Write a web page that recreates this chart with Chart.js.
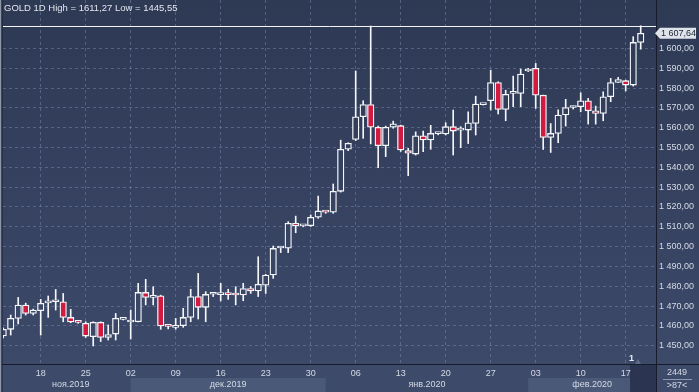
<!DOCTYPE html>
<html><head><meta charset="utf-8">
<script src="https://cdn.jsdelivr.net/npm/chart.js@4.4.1/dist/chart.umd.min.js"></script>
<style>html,body{margin:0;padding:0;background:#36425f;overflow:hidden}canvas{display:block}</style>
</head><body>
<canvas id="c" width="699" height="392"></canvas>
<script>
// ---- data ----
const dates = [
 '2019-11-12','2019-11-13','2019-11-14','2019-11-15','2019-11-16',
 '2019-11-18','2019-11-19','2019-11-20','2019-11-21','2019-11-22','2019-11-23',
 '2019-11-25','2019-11-26','2019-11-27','2019-11-28','2019-11-29','2019-11-30',
 '2019-12-02','2019-12-03','2019-12-04','2019-12-05','2019-12-06','2019-12-07',
 '2019-12-09','2019-12-10','2019-12-11','2019-12-12','2019-12-13','2019-12-14',
 '2019-12-16','2019-12-17','2019-12-18','2019-12-19','2019-12-20','2019-12-21',
 '2019-12-23','2019-12-24','2019-12-25','2019-12-26','2019-12-27','2019-12-28',
 '2019-12-30','2019-12-31','2020-01-01','2020-01-02','2020-01-03','2020-01-04',
 '2020-01-06','2020-01-07','2020-01-08','2020-01-09','2020-01-10','2020-01-11',
 '2020-01-13','2020-01-14','2020-01-15','2020-01-16','2020-01-17','2020-01-18',
 '2020-01-20','2020-01-21','2020-01-22','2020-01-23','2020-01-24','2020-01-25',
 '2020-01-27','2020-01-28','2020-01-29','2020-01-30','2020-01-31','2020-02-01',
 '2020-02-03','2020-02-04','2020-02-05','2020-02-06','2020-02-07','2020-02-08',
 '2020-02-10','2020-02-11','2020-02-12','2020-02-13','2020-02-14','2020-02-15',
 '2020-02-17','2020-02-18','2020-02-19'
];
const open = [
 1455.0,1458.3,1463.8,1470.5,1466.3,
 1467.7,1471.6,1472.2,1472.2,1464.3,1462.0,
 1461.3,1454.6,1461.8,1454.2,1455.9,1463.3,
 1462.0,1462.1,1476.9,1474.4,1475.2,1460.0,
 1459.3,1460.1,1464.3,1474.8,1469.4,1476.0,
 1475.8,1475.9,1475.7,1475.6,1478.9,1477.6,
 1480.5,1485.7,1499.3,1499.2,1511.8,1510.5,
 1510.6,1514.8,1517.6,1517.4,1527.9,1549.1,
 1554.1,1565.5,1571.7,1560.2,1550.9,1560.2,
 1561.0,1548.4,1546.7,1555.9,1553.8,1557.0,
 1556.8,1560.5,1558.8,1558.8,1562.1,1571.6,
 1573.6,1582.8,1569.2,1577.3,1577.3,1588.6,
 1589.9,1576.4,1555.1,1557.1,1566.4,1570.2,
 1570.6,1573.6,1568.5,1567.2,1575.6,1582.8,
 1583.7,1581.5,1603.0
];
const high = [
 1459.0,1465.5,1474.4,1471.5,1468.5,
 1473.4,1475.1,1478.4,1476.4,1468.4,1462.5,
 1462.1,1462.1,1462.1,1460.5,1466.3,1463.6,
 1468.0,1481.5,1483.5,1479.8,1475.5,1460.5,
 1463.8,1468.9,1478.5,1486.5,1477.3,1476.8,
 1481.5,1478.5,1479.8,1481.5,1479.8,1494.9,
 1486.0,1500.3,1500.1,1512.6,1515.4,1511.0,
 1516.0,1525.5,1518.0,1531.6,1553.7,1552.4,
 1588.6,1573.6,1611.27,1560.8,1560.8,1563.3,
 1561.3,1549.6,1557.9,1558.3,1561.2,1557.6,
 1562.5,1568.9,1560.5,1568.0,1575.9,1572.0,
 1589.0,1583.2,1578.9,1586.0,1589.6,1589.9,
 1592.4,1576.4,1562.1,1569.0,1574.3,1570.9,
 1577.6,1574.8,1570.9,1578.1,1584.9,1585.4,
 1584.0,1605.9,1611.4
];
const low = [
 1454.0,1455.4,1461.0,1465.5,1465.5,
 1455.4,1464.3,1468.0,1462.1,1461.6,1461.3,
 1454.2,1449.9,1452.1,1452.9,1452.9,1463.0,
 1453.4,1462.0,1470.6,1470.6,1458.3,1458.5,
 1458.3,1459.3,1462.1,1463.5,1462.1,1474.8,
 1472.6,1473.4,1470.6,1472.7,1476.4,1474.8,
 1476.4,1484.0,1497.0,1497.0,1507.0,1510.0,
 1510.2,1514.3,1516.8,1516.8,1527.5,1548.4,
 1553.5,1554.6,1551.8,1539.8,1545.4,1559.7,
 1548.0,1535.8,1546.2,1547.9,1549.1,1556.4,
 1556.3,1546.2,1549.9,1552.0,1556.3,1571.4,
 1568.9,1566.9,1563.5,1570.6,1570.6,1588.3,
 1569.7,1549.0,1547.5,1552.4,1560.8,1569.4,
 1568.0,1561.8,1561.8,1563.5,1573.1,1582.7,
 1578.5,1581.0,1599.6
];
const close = [
 1458.3,1463.8,1470.5,1466.3,1468.0,
 1471.4,1472.0,1472.5,1464.3,1462.0,1461.8,
 1454.9,1461.8,1454.2,1455.7,1463.8,1463.4,
 1462.4,1476.9,1474.4,1475.2,1460.0,1459.8,
 1460.1,1464.3,1474.8,1469.4,1475.9,1476.2,
 1476.0,1475.8,1475.6,1478.9,1477.6,1481.0,
 1485.7,1499.1,1499.5,1511.8,1510.6,1510.6,
 1514.8,1518.0,1517.4,1527.9,1549.1,1552.1,
 1565.5,1571.7,1560.2,1550.9,1560.2,1562.0,
 1548.8,1547.1,1555.9,1553.8,1557.1,1557.2,
 1560.5,1558.3,1558.9,1562.5,1571.9,1571.8,
 1582.8,1569.2,1576.8,1577.8,1587.0,1589.4,
 1576.4,1555.1,1557.1,1566.4,1570.2,1570.4,
 1573.6,1568.5,1567.2,1575.6,1582.8,1584.3,
 1581.5,1603.0,1607.64
];
const yTicks = [1450,1460,1470,1480,1490,1500,1510,1520,1530,1540,1550,1560,1570,1580,1590,1600];
const titleText = 'GOLD 1D High = 1611,27 Low = 1445,55';
const highLevel = 1611.27;
const monthNames = ['янв','фев','мар','апр','май','июн','июл','авг','сен','окт','ноя','дек'];
const cornerTop = '2449';
const cornerBottom = '>87<';
const markerText = '1';

// ---- helpers ----
const FONT = "'Liberation Sans', Arial, sans-serif";
const TXT = '#d4dae5';
const RED = '#d2193f';
const GRID = 'rgba(115,132,170,0.55)';
function fmt(v){
  const s = Number(v).toFixed(2).split('.');
  return s[0].replace(/\B(?=(\d{3})+(?!\d))/g,' ') + ',' + s[1];
}
function weekday(s){ const p = s.split('-').map(Number); return new Date(Date.UTC(p[0],p[1]-1,p[2])).getUTCDay(); }
const idx = dates.map((d,i)=>i);
const mondays = idx.filter(i => weekday(dates[i]) === 1);
const bodies = idx.map(i => ({x:i, y:[open[i], close[i]]}));
const wickLow = idx.map(i => ({x:i, y:[low[i], Math.min(open[i], close[i])]}));
const wickHigh = idx.map(i => ({x:i, y:[Math.max(open[i], close[i]), high[i]]}));

const canvas = document.getElementById('c');
const ctx0 = canvas.getContext('2d');
const bgGrad = ctx0.createLinearGradient(0,0,0,364);
bgGrad.addColorStop(0,'#2e3954');
bgGrad.addColorStop(1,'#3c4969');

const decor = {
  id:'decor',
  beforeDraw(chart){
    const c = chart.ctx, a = chart.chartArea, xs = chart.scales.x;
    c.save();
    c.fillStyle = bgGrad; c.fillRect(0,0,699,392);
    c.fillStyle = '#3d4a6a'; c.fillRect(0,a.bottom,699,392-a.bottom);
    const starts = idx.filter(i => i===0 || dates[i].slice(0,7)!==dates[i-1].slice(0,7));
    starts.forEach((s,k) => {
      if (k % 2 === 1) {
        const l = xs.getPixelForValue(s);
        const r = k+1 < starts.length ? xs.getPixelForValue(starts[k+1]) : a.right;
        c.fillStyle = '#4b5979'; c.fillRect(l, 378, r-l, 14);
      }
    });
    c.fillStyle = '#2b3551'; c.fillRect(a.right-26, a.bottom, 26, 392-a.bottom);
    c.restore();
  },
  afterDraw(chart){
    const c = chart.ctx, a = chart.chartArea, xs = chart.scales.x, ys = chart.scales.y;
    c.save();
    const hy = Math.round(ys.getPixelForValue(highLevel)) + 0.5;
    c.strokeStyle = '#f2f4f8'; c.lineWidth = 1;
    c.beginPath(); c.moveTo(a.left, hy); c.lineTo(a.right, hy); c.stroke();
    c.strokeStyle = '#161c2a';
    c.beginPath(); c.moveTo(0, a.bottom+0.5); c.lineTo(699, a.bottom+0.5); c.stroke();
    c.beginPath(); c.moveTo(a.right+0.5, 0); c.lineTo(a.right+0.5, 392); c.stroke();
    c.fillStyle = '#8e97aa'; c.fillRect(0,0,1.5,392);
    c.fillStyle = '#1a2030'; c.fillRect(1.5,0,1,392);
    c.font = '9.5px ' + FONT; c.fillStyle = '#e2e6ee';
    c.textAlign = 'left'; c.textBaseline = 'middle';
    c.fillText(titleText, 4, 8.5);
    const starts = idx.filter(i => i===0 || dates[i].slice(0,7)!==dates[i-1].slice(0,7));
    const step = xs.getPixelForValue(1) - xs.getPixelForValue(0);
    c.font = '9px ' + FONT; c.fillStyle = TXT; c.textAlign = 'center';
    starts.forEach((s,k) => {
      let first = s;
      while (xs.getPixelForValue(first) - step/2 < a.left) first++;
      const l = xs.getPixelForValue(first);
      const r = k+1 < starts.length ? xs.getPixelForValue(starts[k+1]) : a.right;
      const p = dates[s].split('-');
      c.fillText(monthNames[Number(p[1])-1] + '.' + p[0], (l+r)/2, 384.5);
    });
    c.fillStyle = '#e6e9f0'; c.font = 'bold 9px ' + FONT; c.textAlign = 'left';
    c.fillText(markerText, a.right-27, a.bottom-5);
    c.fillStyle = '#5d6a88';
    c.beginPath(); c.moveTo(a.right-21, a.bottom); c.lineTo(a.right-18, a.bottom-5); c.lineTo(a.right-15, a.bottom); c.closePath(); c.fill();
    c.fillStyle = TXT; c.font = '9px ' + FONT; c.textAlign = 'center';
    c.fillText(cornerTop, 677, 372.5);
    c.fillText(cornerBottom, 677, 386);
    c.strokeStyle = '#8f9ab0';
    c.beginPath(); c.moveTo(663, 379.5); c.lineTo(692, 379.5); c.stroke();
    const last = close[close.length-1];
    const ty = ys.getPixelForValue(last);
    c.fillStyle = '#dfe3ea';
    c.beginPath();
    c.moveTo(a.right-1, ty); c.lineTo(a.right+4, ty-5.5); c.lineTo(696, ty-5.5);
    c.lineTo(696, ty+5.5); c.lineTo(a.right+4, ty+5.5); c.closePath(); c.fill();
    c.fillStyle = '#1c2333'; c.textAlign = 'left'; c.font = '9px ' + FONT;
    c.fillText(fmt(last), a.right+5, ty+0.5);
    c.restore();
  }
};

new Chart(canvas, {
  type: 'bar',
  data: {
    datasets: [
      { data: bodies, grouped: false, barThickness: 6.5, minBarLength: 2,
        backgroundColor: ctx => { const r = ctx.raw; return r && r.y[1] < r.y[0] ? RED : bgGrad; },
        borderColor: '#f4f6fa', borderWidth: 1.3, borderSkipped: false, order: 0 },
      { data: wickLow, grouped: false, barThickness: 1, backgroundColor: '#f4f6fa', borderWidth: 0, order: 1 },
      { data: wickHigh, grouped: false, barThickness: 1, backgroundColor: '#f4f6fa', borderWidth: 0, order: 1 }
    ]
  },
  options: {
    responsive: false, animation: false, events: [],
    devicePixelRatio: 1,
    layout: { padding: { left: 3, right: 0, top: 0, bottom: 0 } },
    plugins: { legend: { display: false }, tooltip: { enabled: false } },
    scales: {
      x: {
        type: 'linear', min: -0.027, max: 87.04, offset: false,
        afterBuildTicks: s => { s.ticks = mondays.map(v => ({value: v})); },
        afterFit: s => { s.height = 28; s.paddingLeft = 0; s.paddingRight = 0; },
        ticks: { callback: v => dates[v] ? dates[v].slice(8) : '', color: TXT, font: { family: FONT, size: 9 }, padding: 4, maxRotation: 0, autoSkip: false },
        grid: { color: GRID, drawTicks: false, lineWidth: 1, offset: false },
        border: { display: false, dash: [3,3] }
      },
      y: {
        position: 'right', min: 1440.8, max: 1624.4,
        afterBuildTicks: s => { s.ticks = yTicks.map(v => ({value: v})); },
        afterFit: s => { s.width = 43; s.paddingTop = 0; s.paddingBottom = 0; },
        ticks: { callback: v => fmt(v), color: TXT, font: { family: FONT, size: 9 }, padding: 3 },
        grid: { color: GRID, drawTicks: false, lineWidth: 1 },
        border: { display: false, dash: [3,3] }
      }
    }
  },
  plugins: [decor]
});
</script>
</body></html>
